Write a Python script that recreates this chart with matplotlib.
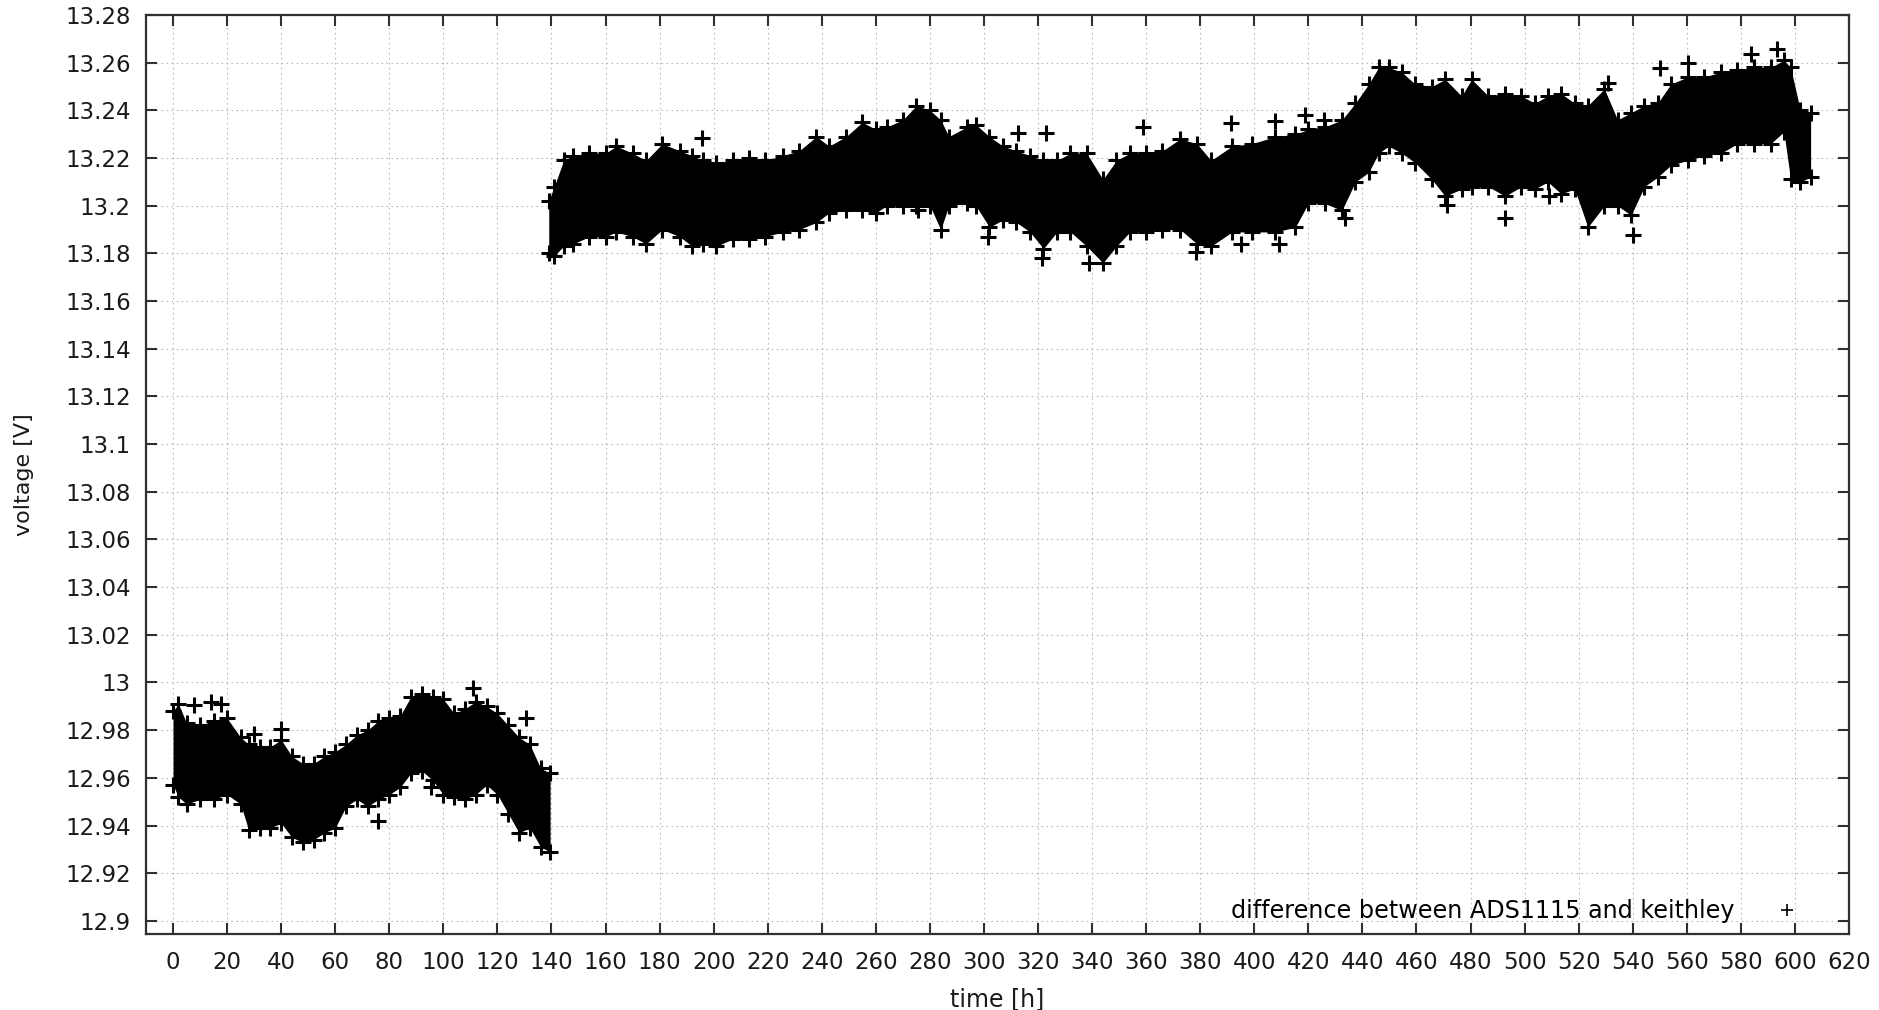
import matplotlib.pyplot as plt
import numpy as np
from matplotlib.ticker import FuncFormatter

# first run (0 .. 140 h): upper / lower edge of the point cloud
t1 = [0, 2, 5, 10, 15, 20, 25, 28, 32, 36, 40, 44, 48, 52, 56, 60, 64, 68,
      72, 76, 80, 84, 88, 92, 96, 100, 104, 108, 112, 116, 120, 124, 128,
      132, 136, 139.5]
hi1 = [12.988, 12.991, 12.983, 12.982, 12.984, 12.985, 12.977, 12.974, 12.973,
       12.973, 12.976, 12.969, 12.966, 12.966, 12.969, 12.971, 12.974, 12.978,
       12.980, 12.984, 12.985, 12.986, 12.994, 12.995, 12.994, 12.993, 12.987,
       12.989, 12.992, 12.990, 12.987, 12.982, 12.977, 12.974, 12.964, 12.962]
lo1 = [12.957, 12.952, 12.949, 12.951, 12.951, 12.953, 12.949, 12.938, 12.939,
       12.939, 12.941, 12.935, 12.933, 12.934, 12.937, 12.939, 12.948, 12.951,
       12.948, 12.951, 12.953, 12.956, 12.962, 12.963, 12.959, 12.953, 12.952,
       12.951, 12.953, 12.957, 12.953, 12.945, 12.937, 12.939, 12.931, 12.929]

# second run (139 .. 606 h)
t2 = [139, 141, 144.5, 148, 154, 160, 164, 170, 175, 181, 187.5, 192, 196, 201,
      207, 213, 219, 225.5, 231.6, 238, 242.7, 249, 255, 260, 264, 270, 275,
      280, 284, 287, 293.6, 297, 302, 307, 312, 317, 322, 327, 332, 338, 344,
      349, 354, 360, 366, 372.6, 378.8, 384, 391.8, 399, 407.8, 415.2, 420,
      426, 432.4, 437.4, 442.3, 446, 449.7, 454.6, 459.5, 465.7, 470.6, 476.7,
      480.4, 486.6, 492.8, 498.8, 503.7, 508.6, 513.5, 518.5, 523.4, 529.5,
      534.4, 539.4, 544.3, 549.2, 554.1, 560.3, 566.4, 572.6, 578.7, 584.9,
      591, 595.9, 598.4, 602, 605.8]
hi2 = [13.202, 13.208, 13.219, 13.221, 13.222, 13.222, 13.225, 13.222, 13.219,
       13.226, 13.223, 13.221, 13.219, 13.218, 13.219, 13.220, 13.219, 13.221,
       13.223, 13.229, 13.225, 13.229, 13.235, 13.232, 13.233, 13.236, 13.242,
       13.240, 13.236, 13.229, 13.233, 13.234, 13.229, 13.225, 13.223, 13.221,
       13.219, 13.219, 13.222, 13.222, 13.211, 13.219, 13.222, 13.222, 13.223,
       13.228, 13.226, 13.219, 13.225, 13.226, 13.229, 13.230, 13.232, 13.233,
       13.236, 13.243, 13.251, 13.258, 13.258, 13.256, 13.251, 13.250, 13.253,
       13.246, 13.253, 13.246, 13.247, 13.246, 13.243, 13.246, 13.247, 13.243,
       13.242, 13.249, 13.236, 13.239, 13.242, 13.243, 13.251, 13.254, 13.254,
       13.256, 13.257, 13.258, 13.258, 13.261, 13.258, 13.240, 13.239]
lo2 = [13.180, 13.179, 13.183, 13.184, 13.187, 13.187, 13.189, 13.187, 13.184,
       13.190, 13.187, 13.183, 13.184, 13.183, 13.186, 13.186, 13.187, 13.189,
       13.190, 13.193, 13.197, 13.198, 13.198, 13.197, 13.200, 13.200, 13.200,
       13.200, 13.190, 13.200, 13.201, 13.200, 13.191, 13.194, 13.193, 13.189,
       13.182, 13.189, 13.189, 13.183, 13.176, 13.183, 13.189, 13.189, 13.190,
       13.190, 13.184, 13.183, 13.189, 13.189, 13.189, 13.191, 13.201, 13.201,
       13.198, 13.210, 13.214, 13.222, 13.225, 13.222, 13.218, 13.211, 13.204,
       13.207, 13.208, 13.208, 13.204, 13.208, 13.207, 13.210, 13.205, 13.207,
       13.191, 13.200, 13.200, 13.196, 13.208, 13.212, 13.217, 13.219, 13.221,
       13.222, 13.226, 13.226, 13.226, 13.231, 13.211, 13.210, 13.212]

# isolated readings outside the main band
out_t = [7.8, 14, 17.7, 30, 39.9, 75.7, 95.4, 110.9, 130.6,
         195.5, 275.7, 301.6, 312.4, 321.6, 322.9, 338.9, 359, 378.3, 391.2,
         394.9, 407.8, 409, 418.9, 425.7, 433.7, 471.2, 492.8, 509, 530.8,
         540, 549.9, 560.3, 583.6, 593.5]
out_v = [12.9905, 12.9919, 12.991, 12.9785, 12.9806, 12.942, 12.956, 12.9975,
         12.985,
         13.2286, 13.198, 13.187, 13.2303, 13.178, 13.2303, 13.1759, 13.233,
         13.1807, 13.2347, 13.184, 13.2354, 13.184, 13.238, 13.236, 13.195,
         13.2003, 13.1947, 13.204, 13.2516, 13.1877, 13.2576, 13.26, 13.2635,
         13.2656]

label = 'difference between ADS1115 and keithley'

plt.rcParams['font.family'] = ['DejaVu Sans']
fig = plt.figure(figsize=(18.79, 10.10), dpi=100)
ax = fig.add_axes([146 / 1879, 1 - 934 / 1010, 1703 / 1879, 919 / 1010])

mk = dict(marker='+', ms=11.5, mew=2.2, color='black', ls='none')
for t, hi, lo in [(t1, hi1, lo1), (t2, hi2, lo2)]:
    ax.fill_between(t, lo, hi, color='black', lw=0)
    ax.plot(t, hi, **mk)
    ax.plot(t, lo, **mk)
ax.plot(out_t, out_v, **mk)
# legend entry only
ax.plot([], [], marker='+', ms=9, mew=1.2, color='black', ls='none', label=label)

ax.set_xlim(-10, 620)
ax.set_ylim(12.8945, 13.28)
ax.set_xticks(np.arange(0, 621, 20))
ax.set_yticks(np.round(np.arange(12.90, 13.2801, 0.02), 2))
ax.yaxis.set_major_formatter(FuncFormatter(lambda v, p: f'{round(v, 2):g}'))

ax.grid(True, color='#b8b8b8', lw=0.8, ls=(0, (1.5, 3)))
ax.set_axisbelow(True)
ax.tick_params(direction='in', length=8, width=1.5, colors='#303030',
               labelcolor='#1a1a1a', labelsize=16.5, top=True, right=True)
ax.tick_params(axis='x', pad=12)
ax.tick_params(axis='y', pad=11)
for s in ax.spines.values():
    s.set_linewidth(1.6)
    s.set_color('#303030')

ax.set_xlabel('time [h]', fontsize=17, labelpad=10, color='#1a1a1a')
ax.set_ylabel('voltage [V]', fontsize=16, labelpad=22, color='#1a1a1a')

ax.legend(loc='center right', bbox_to_anchor=(0.9835, 0.025),
          bbox_transform=ax.transAxes, borderaxespad=0, frameon=False,
          markerfirst=False, fontsize=17.2, handlelength=2.0, handletextpad=1.2)

fig.savefig('out.png', dpi=100)
